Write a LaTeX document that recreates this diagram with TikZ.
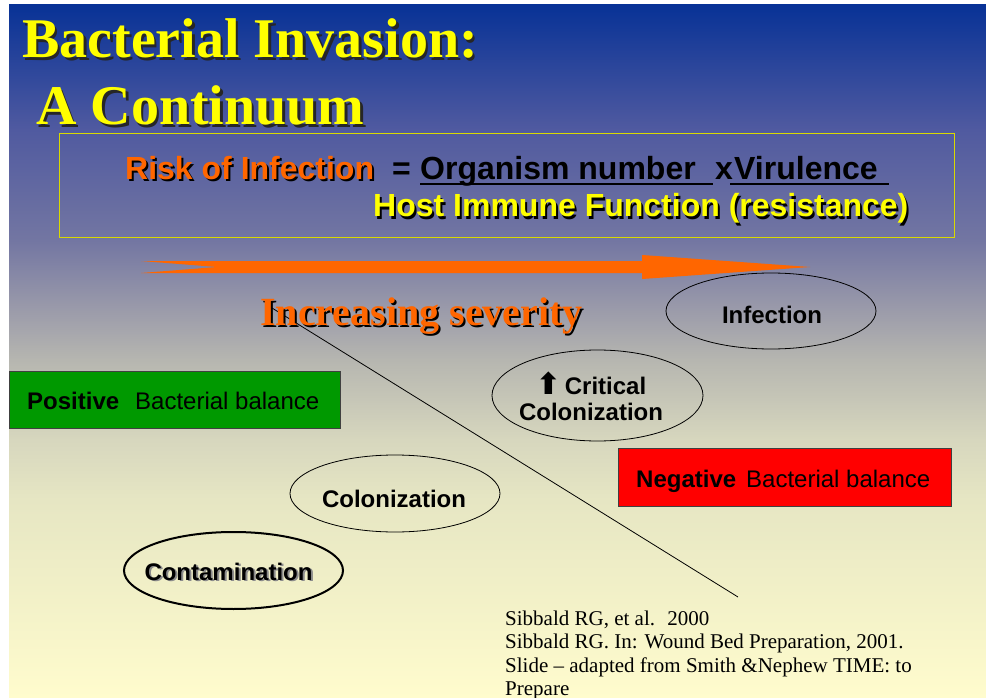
\documentclass[tikz,border=0pt]{standalone}
\usepackage{fontspec}
\setmainfont{Liberation Serif}
\setsansfont{Liberation Sans}
\newfontfamily\arrowfont{DejaVu Sans}

\definecolor{bgtop}{RGB}{8,50,150}
\definecolor{bghigh}{RGB}{80,90,160}
\definecolor{bgviolet}{RGB}{115,118,162}
\definecolor{bgmid}{RGB}{155,155,170}
\definecolor{bggray}{RGB}{182,182,176}
\definecolor{bglow}{RGB}{215,215,190}
\definecolor{bgcream}{RGB}{230,230,195}
\definecolor{bgfoot}{RGB}{255,252,205}
\definecolor{slideorange}{RGB}{255,102,0}
\definecolor{slideyellow}{RGB}{255,255,0}
\definecolor{posgreen}{RGB}{0,153,0}
\definecolor{negred}{RGB}{255,0,0}

\pgfdeclareverticalshading{slidebg}{100bp}{color(0bp)=(bgfoot); color(25bp)=(bgfoot);
  color(39.3bp)=(bgcream); color(43.6bp)=(bglow); color(49.4bp)=(bggray); color(53bp)=(bgmid);
  color(58bp)=(bgviolet); color(66bp)=(bghigh); color(75bp)=(bgtop); color(100bp)=(bgtop)}

\tikzset{
  titletext/.style={anchor=base west, inner sep=0pt, font=\bfseries\fontsize{56}{60}\selectfont},
  formula/.style={anchor=base west, inner sep=0pt, font=\sffamily\bfseries\fontsize{32}{36}\selectfont},
  severity/.style={anchor=base west, inner sep=0pt, font=\bfseries\fontsize{40}{44}\selectfont},
  stage/.style={draw=black, line width=0.8pt},
  stagetext/.style={anchor=base, inner sep=0pt, align=center, font=\sffamily\bfseries\fontsize{24}{26}\selectfont},
  balance/.style={draw=black!75, line width=0.8pt, anchor=north west, minimum width=331pt, minimum height=57pt, inner sep=0pt},
  balancetext/.style={anchor=base west, inner sep=0pt, font=\sffamily\fontsize{24}{28}\selectfont},
  source/.style={anchor=north west, inner sep=0pt, align=left, font=\fontsize{21}{23.5}\selectfont}
}

\begin{document}
\begin{tikzpicture}[x=1pt, y=-1pt]
  \useasboundingbox (0,0) rectangle (986,698);
  \fill[white] (0,0) rectangle (986,698);
  \shade[shading=slidebg] (9,5) rectangle (986,698); % slide background

  % title
  \node[titletext, text=black!85] (title1 shadow) at (24.5,60.5) {Bacterial Invasion:};
  \node[titletext, text=slideyellow] (title1) at (22,58) {Bacterial Invasion:};
  \node[titletext, text=black!85] (title2 shadow) at (38.5,127.5) {A Continuum};
  \node[titletext, text=slideyellow] (title2) at (36,125) {A Continuum};

  % formula box
  \draw[draw=slideyellow!85!black, line width=0.8pt] (59,133) rectangle (954,237);
  \node[formula, text=black] (risk shadow) at (127,182) {Risk of Infection};
  \node[formula, text=slideorange] (risk) at (125,180) {Risk of Infection};
  \node[formula] (equals) at (392,180) {=};
  \node[formula] (organism) at (420,180) {Organism number};
  \node[formula] (times) at (715,180) {x};
  \node[formula] (virulence) at (734,180) {Virulence};
  \draw[line width=2.5pt] (420,184) -- (713,184);
  \draw[line width=2.5pt] (730,184) -- (889,184);
  \node[formula, text=black] (host shadow) at (375,219) {Host Immune Function (resistance)};
  \node[formula, text=slideyellow] (host) at (373,217) {Host Immune Function (resistance)};

  % severity arrow
  \fill[slideorange] (141,261) -- (642,261) -- (642,255) -- (810,267) -- (642,279)
    -- (642,273) -- (141,273) -- (217,267) -- cycle;

  \coordinate (line start) at (272,308);
  \coordinate (line end) at (738,597);
  \draw[line width=0.8pt] (line start) -- (line end);

  \node[severity, text=black] (severity shadow) at (262,327) {Increasing severity};
  \node[severity, text=slideorange] (severity) at (260,325) {Increasing severity};

  % stages
  \draw[stage] (771,311) ellipse [x radius=105, y radius=38];
  \node[stagetext] (infection) at (772,323) {Infection};
  \draw[stage] (597.5,395.5) ellipse [x radius=105.5, y radius=45.5];
  \node[stagetext] (critical) at (591,420) {{\arrowfont\bfseries\fontsize{30}{26}\selectfont ⬆}\,Critical\\Colonization};
  \draw[stage] (395,493.5) ellipse [x radius=105, y radius=38.5];
  \node[stagetext] (colonization) at (394,507) {Colonization};
  \draw[stage, line width=2pt] (233.5,570.5) ellipse [x radius=109.5, y radius=38.5];
  \node[stagetext, text=black!45] (contamination shadow) at (230.5,581.5) {Contamination};
  \node[stagetext] (contamination) at (228.5,580) {Contamination};

  % bacterial balance
  \node[balance, fill=posgreen] (positive box) at (9,371) {};
  \node[balancetext, font=\sffamily\bfseries\fontsize{24}{28}\selectfont] (positive) at (27,409) {Positive};
  \node[balancetext] (positive balance) at (135,409) {Bacterial balance};
  \node[balance, fill=negred, minimum width=333pt, minimum height=58pt] (negative box) at (618,448) {};
  \node[balancetext, font=\sffamily\bfseries\fontsize{24}{28}\selectfont] (negative) at (636,487) {Negative};
  \node[balancetext] (negative balance) at (746,487) {Bacterial balance};

  % reference
  \node[source] (source) at (505,610.5) {Sibbald RG, et al.~ 2000\\Sibbald RG. In: Wound Bed Preparation, 2001.\\Slide -- adapted from Smith \&Nephew TIME: to\\Prepare};
\end{tikzpicture}
\end{document}
